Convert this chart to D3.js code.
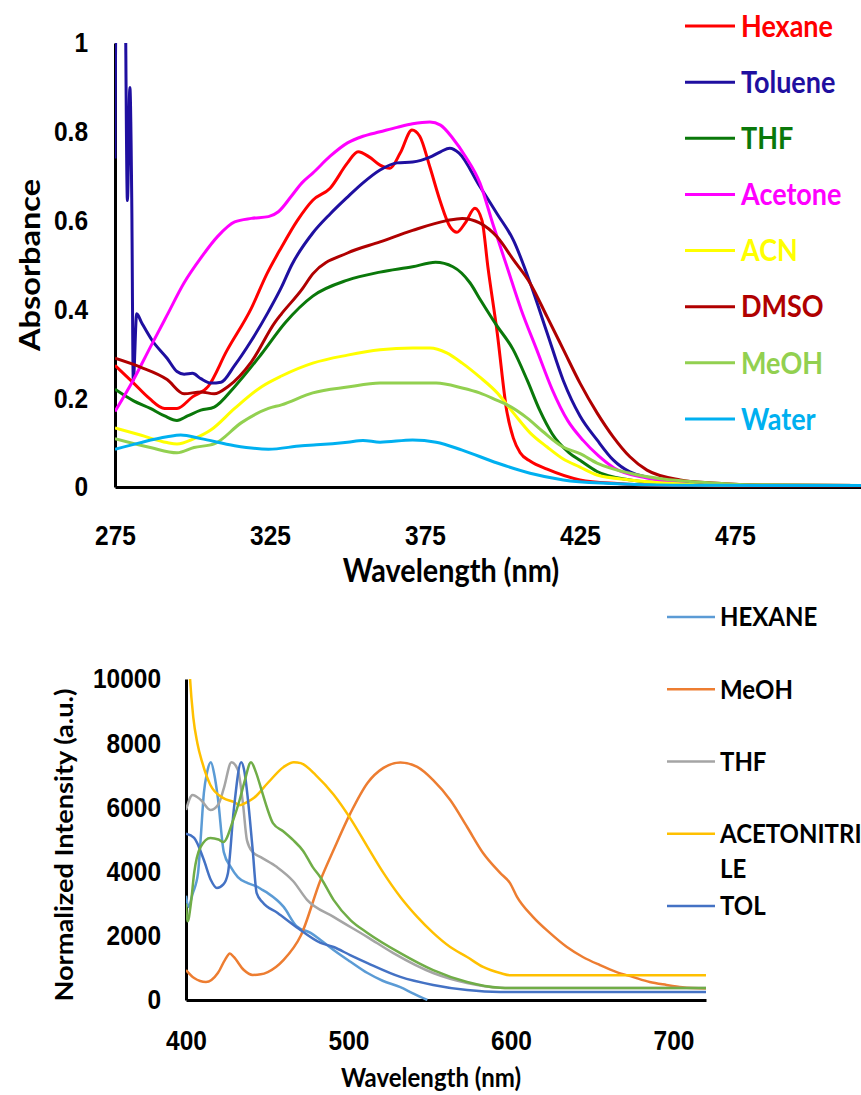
<!DOCTYPE html>
<html>
<head>
<meta charset="utf-8">
<script src="https://cdn.jsdelivr.net/npm/d3@7"></script>
<style>
  body { margin: 0; background: #fff; }
  svg { display: block; font-family: Lato, 'Open Sans', sans-serif; font-weight: bold; }
</style>
</head>
<body>
<script>
// ---- absorbance panel (top) ----
var absNames = ['Hexane', 'Toluene', 'THF', 'Acetone', 'ACN', 'DMSO', 'MeOH', 'Water'];
var absColors = ['#ff0000', '#1f0fa0', '#0a780a', '#ff00ff', '#ffff00', '#b00000', '#92d050', '#00b0f0'];
var absXTicks = [275, 325, 375, 425, 475];
var absYTicks = [0, 0.2, 0.4, 0.6, 0.8, 1];

// [wavelength nm, absorbance]
var hexaneAbs = [[275,0.274],[281,0.234],[286,0.20],[291,0.177],[295,0.177],[300,0.203],[305,0.226],[311,0.306],[319,0.403],[324,0.48],[328.7,0.54],[333.8,0.60],[338.8,0.646],[344.4,0.673],[350,0.73],[353.4,0.755],[357.1,0.743],[360.5,0.725],[363.7,0.718],[367,0.752],[370.8,0.804],[373.3,0.79],[376.6,0.72],[379.8,0.646],[383.1,0.586],[385.3,0.574],[388,0.595],[391.1,0.628],[393.4,0.60],[395.3,0.495],[398.3,0.347],[401.4,0.17],[403.5,0.11],[405.7,0.077],[409,0.058],[414.4,0.04],[425,0.016],[437,0.008],[452,0.004],[475,0.003],[530,0.003]];
var tolueneAbs = [[275,0.74],[275.6,1.3],[278,1.3],[279,0.645],[279.8,0.9],[280.4,0.65],[280.9,0.24],[282,0.39],[283.6,0.37],[287,0.33],[291.8,0.29],[295,0.26],[297.3,0.254],[300,0.256],[302.7,0.244],[306,0.234],[309.2,0.236],[313.6,0.274],[319,0.33],[324.5,0.395],[328.7,0.45],[332,0.50],[338.8,0.572],[344.4,0.615],[350,0.653],[355,0.685],[360.5,0.714],[366,0.73],[371,0.732],[376.6,0.743],[380,0.755],[383,0.763],[386,0.752],[392.6,0.678],[398.3,0.615],[403.5,0.556],[408.9,0.46],[414.4,0.347],[419.6,0.24],[425,0.16],[430.5,0.106],[435.7,0.061],[441.1,0.034],[451.8,0.016],[462.4,0.009],[478,0.004],[530,0.003]];
var thfAbs = [[275,0.22],[281,0.194],[286.4,0.177],[291,0.16],[295,0.15],[298.4,0.16],[302.7,0.173],[307,0.18],[313.6,0.226],[322.3,0.30],[329.9,0.37],[338.8,0.43],[350,0.466],[360.5,0.484],[371,0.496],[378.4,0.506],[384,0.496],[389.5,0.46],[393,0.42],[398,0.365],[403.4,0.31],[408,0.24],[412,0.173],[416,0.12],[421.5,0.077],[425,0.06],[430.5,0.035],[441.1,0.016],[451.8,0.009],[470,0.004],[530,0.003]];
var acetoneAbs = [[275,0.17],[281,0.242],[286.4,0.315],[291.8,0.387],[297.3,0.46],[302.7,0.516],[308.2,0.565],[313.6,0.597],[319,0.605],[324.5,0.609],[327.7,0.62],[332,0.656],[335.3,0.685],[338.8,0.707],[344.4,0.745],[350,0.775],[355,0.79],[360.5,0.80],[366,0.81],[371,0.818],[376.6,0.822],[380,0.815],[384,0.785],[388,0.745],[392.7,0.685],[397,0.59],[401.5,0.495],[406,0.40],[411,0.31],[416,0.22],[421,0.15],[426,0.105],[431,0.07],[436,0.043],[446.6,0.02],[458,0.008],[475,0.004],[530,0.003]];
var acnAbs = [[275,0.133],[283.2,0.117],[291.8,0.10],[295,0.097],[300.5,0.109],[306,0.129],[313.6,0.177],[322.3,0.226],[328.7,0.25],[338.8,0.279],[350,0.297],[360.5,0.309],[371,0.313],[376.6,0.313],[382,0.302],[387,0.279],[392.6,0.248],[398.3,0.212],[403.5,0.167],[408.9,0.122],[414.4,0.09],[419.6,0.063],[425,0.045],[430.5,0.027],[441,0.016],[452,0.009],[470,0.004],[530,0.003]];
var dmsoAbs = [[275,0.29],[283.2,0.27],[291.8,0.242],[297.3,0.21],[302.7,0.214],[307,0.21],[311.4,0.226],[319,0.282],[326.6,0.371],[328.7,0.39],[335.3,0.445],[338.8,0.48],[350,0.527],[360.5,0.552],[371,0.578],[382,0.60],[387,0.605],[392.6,0.595],[398.3,0.563],[403.5,0.512],[408.9,0.459],[414.4,0.383],[419.6,0.31],[425,0.234],[430.5,0.167],[435.7,0.113],[441.1,0.068],[446.6,0.038],[457.3,0.016],[467.9,0.009],[485,0.004],[530,0.003]];
var meohAbs = [[275,0.109],[286.4,0.089],[295,0.077],[300.5,0.089],[307,0.097],[315.8,0.145],[324.5,0.177],[328.7,0.185],[338.8,0.212],[350,0.225],[360.5,0.234],[371,0.234],[378.6,0.234],[387,0.223],[392.6,0.212],[398.3,0.195],[401.5,0.185],[408,0.155],[413,0.125],[419.5,0.09],[425,0.075],[430.5,0.054],[441.1,0.031],[451.8,0.018],[462.7,0.011],[480,0.005],[530,0.003]];
var waterAbs = [[275,0.085],[283.2,0.10],[291.8,0.113],[296.2,0.117],[302.7,0.109],[313.6,0.093],[324.5,0.085],[335.3,0.093],[340,0.095],[350,0.101],[355,0.105],[360.5,0.101],[371,0.106],[378.6,0.101],[387,0.083],[398.3,0.054],[408.9,0.031],[419.6,0.016],[435,0.008],[455,0.004],[530,0.003]];
var absSeries = [hexaneAbs, tolueneAbs, thfAbs, acetoneAbs, acnAbs, dmsoAbs, meohAbs, waterAbs];

// ---- emission panel (bottom) ----
var emNames = ['HEXANE', 'MeOH', 'THF', 'ACETONITRILE', 'TOL'];
var emColors = ['#5b9bd5', '#ed7d31', '#a5a5a5', '#ffc000', '#4472c4'];
var extraColor = '#70ad47';
var emXTicks = [400, 500, 600, 700];
var emYTicks = [0, 2000, 4000, 6000, 8000, 10000];

// [wavelength nm, intensity]
var hexaneEm = [[400,3250],[401.5,2900],[404,3300],[407.4,3950],[409,5000],[411,6450],[413,7100],[415.3,7410],[417.5,7000],[419.6,6300],[423.3,4600],[427.6,4140],[431.9,3830],[438,3640],[444.2,3520],[447,3430],[450.3,3330],[460.1,2900],[468,2300],[476.7,2090],[482.8,1870],[490.8,1560],[501,1200],[511.7,840],[521,600],[531.9,400],[540,200],[548.5,0]];
var meohEm = [[400,935],[405,685],[412.3,560],[419.6,840],[424,1250],[427,1450],[429.4,1340],[435.6,935],[441,780],[446,800],[450.3,870],[460.1,1250],[470.6,2000],[482.8,3740],[490.8,4670],[501.2,5820],[511.7,6760],[521.5,7230],[531.9,7400],[542.3,7260],[552.1,6850],[562.6,6230],[573,5390],[582.8,4580],[593.3,3960],[599.4,3640],[603.7,3210],[613.5,2590],[623.9,2090],[634.4,1650],[644.2,1340],[654.6,1090],[665,870],[674.8,720],[685.3,560],[695.7,470],[705.5,400],[720,360]];
var thfEm = [[400,5920],[404,6390],[409.2,6230],[415,5920],[420,6100],[423.3,6600],[428,7410],[431.9,7170],[435,6140],[437.5,4980],[441,4610],[446,4450],[456,4140],[466,3700],[474.5,3120],[490.8,2590],[511.7,1960],[527.6,1460],[552.1,840],[573,530],[593.3,380],[600,370],[720,370]];
var acnEm = [[400,13000],[402.5,10000],[404.5,8800],[407,8000],[410,7400],[415,6700],[423,6290],[429.4,6170],[433,6070],[437,6150],[441.7,6290],[450.3,6760],[460.1,7260],[466.3,7410],[470.6,7380],[480,7000],[490.8,6400],[501.2,5650],[511.7,4770],[521.5,3960],[531.9,3210],[542.3,2590],[552.1,2090],[562.6,1650],[573,1340],[582.8,1030],[593.3,840],[599.4,770],[720,770]];
var tolEm = [[400,5180],[405,5050],[411,4360],[415.3,3740],[419,3490],[423,3600],[425.8,3950],[429.4,5920],[434,7410],[436,7100],[438,6300],[441,4700],[443.5,3330],[447,3050],[456.4,2710],[468,2270],[482.8,1780],[490.8,1650],[501,1400],[511.7,1150],[531.9,720],[552.1,470],[573,310],[593.3,250],[600,250],[720,250]];
var extraEm = [[400,3000],[401,2450],[403,3000],[405,3950],[409,4770],[415,5050],[420,5000],[423,4920],[429,5600],[433,6230],[436,6800],[440,7410],[443,7100],[447,6450],[450.3,5920],[453.5,5510],[460,5250],[466,4980],[472,4650],[478,4140],[483,3800],[490.8,3120],[501.2,2490],[511.7,2090],[531.9,1460],[552.1,930],[573,560],[593.3,380],[600,370],[720,370]];
var emSeries = [hexaneEm, meohEm, thfEm, acnEm, tolEm];

var width = 861, height = 1095;
var stretch = 1.13; // source figure text is vertically stretched

var svg = d3.select('body').append('svg')
  .attr('width', width)
  .attr('height', height);

function styleAxis(g, fontSize) {
  g.select('.domain').attr('stroke', '#000').attr('stroke-width', 3);
  g.selectAll('text')
    .attr('fill', '#000')
    .style('font-size', fontSize + 'px')
    .attr('transform', 'scale(1,' + stretch + ')');
}

function drawPanel(cfg) {
  var x = d3.scaleLinear().domain(cfg.xDomain).range(cfg.xRange);
  var y = d3.scaleLinear().domain(cfg.yDomain).range(cfg.yRange);
  var g = svg.append('g');

  g.append('clipPath').attr('id', cfg.id + '-clip')
    .append('rect')
    .attr('x', cfg.xRange[0])
    .attr('y', cfg.yRange[1])
    .attr('width', width - cfg.xRange[0])
    .attr('height', cfg.yRange[0] - cfg.yRange[1] + 1);

  g.append('g')
    .attr('transform', 'translate(0,' + cfg.yRange[0] + ')')
    .call(d3.axisBottom(x).tickValues(cfg.xTicks).tickSize(0).tickSizeOuter(0)
      .tickPadding(cfg.xPad).tickFormat(d3.format('d')))
    .call(styleAxis, cfg.tickFont);

  g.append('g')
    .attr('transform', 'translate(' + cfg.xRange[0] + ',0)')
    .call(d3.axisLeft(y).tickValues(cfg.yTicks).tickSize(0).tickSizeOuter(0)
      .tickPadding(cfg.yPad).tickFormat(function(d) { return String(d); }))
    .call(styleAxis, cfg.tickFont);

  var line = d3.line()
    .x(function(d) { return x(d[0]); })
    .y(function(d) { return y(d[1]); })
    .curve(d3.curveMonotoneX);

  var lines = g.append('g').attr('clip-path', 'url(#' + cfg.id + '-clip)');
  cfg.series.forEach(function(s, i) {
    lines.append('path')
      .datum(s)
      .attr('fill', 'none')
      .attr('stroke', cfg.colors[i])
      .attr('stroke-width', cfg.lineWidth)
      .attr('stroke-linejoin', 'round')
      .attr('d', line);
  });

  // axis titles
  g.append('text')
    .attr('transform', 'translate(' + cfg.xTitle[0] + ',' + cfg.xTitle[1] + ') scale(1,' + stretch + ')')
    .attr('text-anchor', 'middle')
    .attr('dy', '0.35em')
    .style('font-size', cfg.titleFont + 'px')
    .text('Wavelength (nm)');

  g.append('text')
    .attr('transform', 'translate(' + cfg.yTitle[0] + ',' + cfg.yTitle[1] + ') scale(1,' + stretch + ') rotate(-90)')
    .attr('text-anchor', 'middle')
    .attr('dy', '0.35em')
    .style('font-size', cfg.titleFont + 'px')
    .text(cfg.yLabel);
}

drawPanel({
  id: 'abs',
  xDomain: [275, 525], xRange: [115, 890],
  yDomain: [0, 1], yRange: [487, 43],
  xTicks: absXTicks, yTicks: absYTicks,
  xPad: 34, yPad: 27, tickFont: 24.5,
  series: absSeries, colors: absColors, lineWidth: 3,
  xTitle: [451, 571], yTitle: [30, 265], titleFont: 28.8,
  yLabel: 'Absorbance'
});

drawPanel({
  id: 'em',
  xDomain: [400, 720], xRange: [186, 706],
  yDomain: [0, 10000], yRange: [1000, 679],
  xTicks: emXTicks, yTicks: emYTicks,
  xPad: 27, yPad: 25, tickFont: 24.5,
  series: emSeries.concat([extraEm]), colors: emColors.concat([extraColor]), lineWidth: 2.5,
  xTitle: [431, 1078], yTitle: [65, 845], titleFont: 24,
  yLabel: 'Normalized Intensity (a.u.)'
});

// top legend
var absLegendY = d3.scalePoint().domain(absNames).range([26, 419]);
var absLegend = svg.append('g').selectAll('g')
  .data(absNames)
  .join('g')
  .attr('transform', function(d) { return 'translate(0,' + absLegendY(d) + ')'; });
absLegend.append('line')
  .attr('x1', 685).attr('x2', 735)
  .attr('stroke', function(d, i) { return absColors[i]; })
  .attr('stroke-width', 3);
absLegend.append('text')
  .attr('transform', 'translate(741,0) scale(1,' + stretch + ')')
  .attr('dy', '0.35em')
  .attr('fill', function(d, i) { return absColors[i]; })
  .style('font-size', '27px')
  .text(function(d) { return d; });

// bottom legend (long names wrap like the source)
var emLegendY = d3.scalePoint().domain(emNames).range([617, 906]);
var emLegend = svg.append('g').selectAll('g')
  .data(emNames)
  .join('g')
  .attr('transform', function(d) { return 'translate(0,' + emLegendY(d) + ')'; });
emLegend.append('line')
  .attr('x1', 667).attr('x2', 715)
  .attr('stroke', function(d, i) { return emColors[i]; })
  .attr('stroke-width', 2.5);
emLegend.each(function(d) {
  var parts = d.match(/.{1,10}/g);
  var grp = d3.select(this);
  parts.forEach(function(p, j) {
    grp.append('text')
      .attr('transform', 'translate(720,' + (j * 35) + ') scale(1,' + stretch + ')')
      .attr('dy', '0.35em')
      .attr('fill', '#000')
      .style('font-size', '24px')
      .text(p);
  });
});
</script>
</body>
</html>
